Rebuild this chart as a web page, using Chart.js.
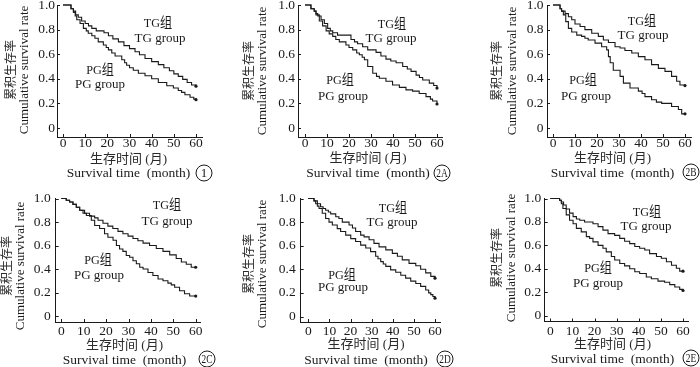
<!DOCTYPE html>
<html><head><meta charset="utf-8">
<script src="https://cdn.jsdelivr.net/npm/chart.js@4.4.0/dist/chart.umd.min.js"></script>
<style>
html,body{margin:0;padding:0;background:#fff;}
#wrap{position:relative;width:700px;height:367px;overflow:hidden;background:#fff;}
#wrap canvas{position:absolute;}
</style></head><body><div id="wrap"></div>
<script>
// ---------- data ----------
const xTicks = [0, 10, 20, 30, 40, 50, 60];
const yTicks = [0, 0.2, 0.4, 0.6, 0.8, 1.0];
const panelLabels = ['1', '2A', '2B', '2C', '2D', '2E'];
const groupTG = ['TG组', 'TG group'];
const groupPG = ['PG组', 'PG group'];
const yTitleZh = '累积生存率';
const yTitleEn = 'Cumulative survival rate';
const xTitleZh = '生存时间 (月)';
const xTitleEn = 'Survival time  (month)';

const tg1Months = [3.6,4.7,5.7,6.9,8.4,10,11.5,13,15,18.5,20.5,22.5,25,27.5,30,32.5,34.5,37,40,43,45.5,48,50,52,54,56,58,60];
const tg1Surv   = [.97,.95,.92,.90,.87,.85,.83,.81,.79,.775,.75,.725,.70,.67,.645,.62,.595,.565,.54,.515,.49,.465,.44,.42,.395,.37,.35,.34];
const pg1Months = [3.6,4.7,5.5,6.2,7.7,9.2,10.5,11.4,13,14.4,15.9,18.2,19.5,20.5,22,23.5,26.5,27.8,28.7,30,31.7,34,37,40,43,46.8,49.8,52,53.5,55,57.3,59,60];
const pg1Surv   = [.97,.94,.91,.88,.85,.81,.79,.77,.75,.73,.70,.675,.655,.635,.61,.585,.555,.53,.51,.49,.47,.445,.425,.40,.37,.343,.325,.305,.29,.27,.25,.235,.23];

const tg2aMonths = [2.7,4.2,5,5.8,7.3,8.8,10.3,11.5,12.6,14.8,20.9,22.5,23.9,26.2,28.5,32.3,34.5,36.8,39,41.4,44.4,46.5,48.2,50.5,52,53.5,56.5,58.5,60];
const tg2aSurv   = [.97,.95,.93,.91,.88,.85,.81,.79,.775,.755,.72,.70,.685,.66,.635,.615,.585,.56,.545,.53,.50,.48,.46,.43,.41,.39,.365,.345,.325];
const pg2aMonths = [2.7,4.2,5,6.5,8,9.6,11,12.6,14,15.6,18.6,20,21.7,23.5,24.7,26,27,28.5,30.8,32.5,33.8,36.8,39.8,42.9,45.9,48.9,51.9,55,57,58,60];
const pg2aSurv   = [.97,.95,.92,.87,.83,.79,.765,.745,.72,.70,.675,.655,.635,.61,.595,.575,.555,.50,.445,.42,.405,.38,.35,.33,.31,.30,.28,.255,.235,.22,.195];

const tg2bMonths = [3.2,3.9,5.5,7,8.5,10,12.3,14.5,17.6,20.6,22.9,25.2,28.2,30.5,32.7,35.8,38.8,41.8,44.8,47.9,50.9,53.9,56.2,57.7,60];
const tg2bSurv   = [.97,.95,.93,.905,.88,.845,.825,.80,.77,.745,.715,.695,.66,.65,.63,.61,.58,.555,.515,.485,.46,.42,.38,.35,.345];
const pg2bMonths = [3.2,3.9,4.7,5.8,7,8.5,10.8,13,14.5,16,19.1,22.1,24.4,25.2,26,27.4,30.5,32,35,38.8,40.5,41.8,44.8,47,49.4,53.9,57,58.5,60];
const pg2bSurv   = [.97,.95,.92,.865,.81,.78,.755,.745,.73,.715,.69,.66,.635,.58,.53,.47,.42,.365,.325,.30,.28,.255,.23,.21,.20,.175,.15,.115,.115];

const tg2cMonths = [2.2,3.7,5.2,6.7,8.2,10.4,12.6,14.9,16.4,18.6,20.8,23,25.3,27.5,29.8,32,34.2,36.5,39.4,42.4,45.4,48.4,51.3,53.6,55.8,58,60];
const tg2cSurv   = [.985,.97,.95,.925,.90,.875,.85,.835,.815,.79,.765,.745,.72,.70,.68,.66,.64,.62,.60,.575,.55,.52,.49,.46,.44,.415,.415];
const pg2cMonths = [2.2,3.7,5.2,6.7,8.2,9.7,11.2,13.4,14.9,17.1,19.3,20.8,23.1,24.6,26,27.5,29,30.5,32,33.5,35,36.5,38.7,40.9,43.2,45.4,47.6,49.1,50.6,52.8,55,57.3,60];
const pg2cSurv   = [.985,.97,.95,.925,.90,.875,.855,.815,.77,.745,.70,.67,.645,.60,.57,.55,.515,.50,.47,.445,.415,.40,.37,.345,.315,.30,.28,.265,.245,.215,.19,.17,.17];

const tg2dMonths = [2.7,4.3,5.8,7,8.2,9.5,10.6,13,14.5,16.1,19.3,20.9,22.4,24.8,26.4,28.8,31.1,33.5,36.7,39.8,42.2,44.5,47.7,50.9,53.2,55.6,58,60];
const tg2dSurv   = [.98,.955,.93,.915,.90,.885,.87,.845,.83,.80,.775,.75,.72,.69,.675,.65,.62,.59,.565,.535,.51,.48,.45,.43,.40,.37,.34,.325];
const pg2dMonths = [2.7,3.5,4.3,5.1,6.6,8.2,9.8,11.4,13.7,15.3,17.7,20.1,22.4,24.8,27.2,29.5,31.9,33,34.3,35.5,36.7,39,41.4,43.8,46.1,48.5,50.9,53.2,55.6,57,58,59,60];
const pg2dSurv   = [.98,.955,.935,.915,.875,.83,.80,.775,.745,.72,.69,.66,.635,.605,.58,.55,.51,.49,.465,.445,.425,.395,.375,.35,.325,.30,.28,.255,.225,.20,.185,.17,.155];

const tg2eMonths = [4.2,5,6,7.2,8.7,10.3,11.8,13.3,15.5,19.3,21.6,23.8,26.1,29.1,31.4,33.6,35.9,38.2,40.4,42.7,44.9,48,50.2,52.5,54.8,57,58.5,60];
const tg2eSurv   = [.985,.97,.945,.91,.875,.845,.825,.815,.80,.785,.76,.73,.70,.685,.66,.635,.615,.59,.575,.56,.53,.505,.49,.46,.43,.405,.38,.38];
const pg2eMonths = [4.2,5,5.7,7.2,8.7,10.3,11.8,14,16.3,17.8,19.3,21.6,23.8,25.3,27.6,29.1,31.4,33.6,35.9,38.2,40.4,43.4,45.7,48.7,51.7,54,56.3,58.5,60];
const pg2eSurv   = [.985,.955,.915,.86,.815,.785,.745,.715,.675,.66,.63,.60,.575,.545,.505,.475,.445,.425,.40,.375,.36,.33,.315,.295,.285,.265,.245,.225,.215];

const seriesByPanel = [
  [tg1Months, tg1Surv, pg1Months, pg1Surv],
  [tg2aMonths, tg2aSurv, pg2aMonths, pg2aSurv],
  [tg2bMonths, tg2bSurv, pg2bMonths, pg2bSurv],
  [tg2cMonths, tg2cSurv, pg2cMonths, pg2cSurv],
  [tg2dMonths, tg2dSurv, pg2dMonths, pg2dSurv],
  [tg2eMonths, tg2eSurv, pg2eMonths, pg2eSurv]
];

// ---------- layout (page pixel geometry) ----------
const geom = [
 {L:0,T:0,W:235,H:185, axisX:57, axisR:202, yTop:5, y0:128, axisY:137, x0:63, x60:196, yPad:2, xPad:0,
  yZhX:12, yEnX:25, yCY:70, xCX:128.5, xZhY:160, xEnY:173, circ:[204,173], tg:[158,23,160,39], pg:[100,70,100,85]},
 {L:235,T:0,W:230,H:185, axisX:298, axisR:442, yTop:5, y0:128, axisY:137, x0:305, x60:437, yPad:3, xPad:0,
  yZhX:250, yEnX:263, yCY:71, xCX:368, xZhY:159, xEnY:173, circ:[442,173], tg:[392,24,391,39], pg:[340,80,343,97]},
 {L:465,T:0,W:235,H:185, axisX:547, axisR:691, yTop:5, y0:128, axisY:137, x0:553, x60:685, yPad:3.5, xPad:0,
  yZhX:498, yEnX:513, yCY:71, xCX:612.5, xZhY:159, xEnY:173, circ:[691,172], tg:[642,21,643,36], pg:[583,80,586,97]},
 {L:0,T:185,W:235,H:182, axisX:55.7, axisR:200, yTop:198.5, y0:316, axisY:322, x0:61.3, x60:195.7, yPad:5, xPad:3,
  yZhX:8.3, yEnX:20.7, yCY:266, xCX:124.5, xZhY:346, xEnY:360, circ:[207,359], tg:[167,205,167,222], pg:[98,260,99,276]},
 {L:235,T:185,W:230,H:182, axisX:300.7, axisR:440, yTop:198.5, y0:316.5, axisY:322, x0:308.3, x60:435, yPad:5, xPad:3,
  yZhX:250, yEnX:263, yCY:264, xCX:366, xZhY:345, xEnY:360, circ:[445,359], tg:[393,208,392,223], pg:[342,275,343,288]},
 {L:465,T:185,W:235,H:182, axisX:544.7, axisR:688, yTop:198.5, y0:315.7, axisY:321.5, x0:550.3, x60:683, yPad:3.5, xPad:3,
  yZhX:498, yEnX:512, yCY:258, xCX:612.5, xZhY:345, xEnY:359, circ:[691,358], tg:[647,212,646,227], pg:[598,268,598,284]}
];

const F = "'Liberation Serif', 'Noto Sans CJK SC', serif";
const INK = '#1a1a1a';
const INK_ZH = '#2a2a2a';

function toPoints(months, surv) {
  return [{x: 0, y: 1}].concat(months.map((m, i) => ({x: m, y: surv[i]})));
}

function drawText(c, text, x, y, size, sx, rot, color) {
  c.save();
  c.translate(x, y);
  if (rot) c.rotate(rot);
  c.scale(sx, 1);
  c.font = size + 'px ' + F;
  c.fillStyle = color || INK;
  c.textAlign = 'center';
  c.textBaseline = 'middle';
  c.fillText(text, 0, 0);
  c.restore();
}

function makeTextPlugin(g, label) {
  return {
    id: 'txt',
    afterDraw(chart) {
      const c = chart.ctx, ca = chart.chartArea;
      const xs = chart.scales.x, ys = chart.scales.y;
      const ox = g.L, oy = g.T;
      c.save();
      c.fillStyle = INK; c.strokeStyle = INK; c.lineWidth = 1;
      // inward tick marks
      c.beginPath();
      xTicks.forEach(v => { const px = Math.round(xs.getPixelForValue(v)) + 0.5; c.moveTo(px, ca.bottom); c.lineTo(px, ca.bottom - 3); });
      yTicks.forEach(v => { const py = Math.round(ys.getPixelForValue(v)) + 0.5; c.moveTo(ca.left, py); c.lineTo(ca.left + 3, py); });
      c.stroke();
      // axis titles
      drawText(c, yTitleZh, g.yZhX - ox, g.yCY - oy, 12, 1, -Math.PI / 2, INK_ZH);
      drawText(c, yTitleEn, g.yEnX - ox, g.yCY - oy, 13, 1, -Math.PI / 2);
      drawText(c, xTitleZh, g.xCX - ox, g.xZhY - oy, 13, 1, 0, INK_ZH);
      drawText(c, xTitleEn, g.xCX - ox, g.xEnY - oy, 13.5, 1, 0);
      // circled panel label
      c.beginPath();
      c.arc(g.circ[0] - ox, g.circ[1] - oy, 8, 0, Math.PI * 2);
      c.lineWidth = 1; c.stroke();
      drawText(c, label, g.circ[0] - ox, g.circ[1] - oy + 0.5, label.length > 1 ? 12.5 : 13, label.length > 1 ? 0.75 : 1, 0);
      // group labels
      drawText(c, groupTG[0], g.tg[0] - ox, g.tg[1] - oy, 13.5, 0.9, 0);
      drawText(c, groupTG[1], g.tg[2] - ox, g.tg[3] - oy, 13, 1, 0);
      drawText(c, groupPG[0], g.pg[0] - ox, g.pg[1] - oy, 13.5, 0.9, 0);
      drawText(c, groupPG[1], g.pg[2] - ox, g.pg[3] - oy, 13, 1, 0);
      c.restore();
    }
  };
}

const wrap = document.getElementById('wrap');
geom.forEach((g, p) => {
  const cv = document.createElement('canvas');
  cv.width = g.W; cv.height = g.H;
  cv.style.left = g.L + 'px'; cv.style.top = g.T + 'px';
  cv.style.width = g.W + 'px'; cv.style.height = g.H + 'px';
  wrap.appendChild(cv);

  const s = seriesByPanel[p];
  const unitY = g.y0 - g.yTop;
  const yMin = -(g.axisY - g.y0) / unitY;
  const pxMonth = (g.x60 - g.x0) / 60;
  const xMin = -(g.x0 - g.axisX) / pxMonth;
  const xMax = 60 + (g.axisR - g.x60) / pxMonth;

  const ds = (months, surv) => {
    const pts = toPoints(months, surv);
    return {
      data: pts, stepped: true, borderColor: INK, borderWidth: 1.1, fill: false, tension: 0, clip: 4,
      pointRadius: ctx => ctx.dataIndex === pts.length - 1 ? 1.6 : 0,
      pointBackgroundColor: INK, pointBorderWidth: 0
    };
  };

  new Chart(cv, {
    type: 'line',
    data: { datasets: [ds(s[0], s[1]), ds(s[2], s[3])] },
    options: {
      responsive: false, animation: false, events: [], devicePixelRatio: 1,
      layout: { padding: { left: 0, top: g.yTop - g.T, right: g.L + g.W - g.axisR, bottom: 0 } },
      plugins: { legend: { display: false }, tooltip: { enabled: false }, title: { display: false } },
      scales: {
        x: {
          type: 'linear', min: xMin, max: xMax,
          afterBuildTicks: sc => { sc.ticks = xTicks.map(v => ({ value: v })); },
          afterFit: sc => { sc.height = g.T + g.H - g.axisY; sc.paddingLeft = 0; sc.paddingRight = 0; },
          grid: { display: true, drawOnChartArea: false, drawTicks: false },
          border: { display: true, color: INK, width: 1 },
          ticks: { padding: g.xPad, color: INK, autoSkip: false, maxRotation: 0, font: { family: F, size: 13.5, lineHeight: 1 },
                   callback: v => String(v) }
        },
        y: {
          type: 'linear', min: yMin, max: 1,
          afterBuildTicks: sc => { sc.ticks = yTicks.map(v => ({ value: v })); },
          afterFit: sc => { sc.width = g.axisX - g.L; sc.paddingTop = 0; sc.paddingBottom = 0; },
          grid: { display: true, drawOnChartArea: false, drawTicks: false },
          border: { display: true, color: INK, width: 1 },
          ticks: { padding: g.yPad, color: INK, autoSkip: false, font: { family: F, size: 13.5, lineHeight: 1 },
                   callback: v => (v === 0 ? '0' : Number(v).toFixed(1)) }
        }
      }
    },
    plugins: [makeTextPlugin(g, panelLabels[p])]
  });
});
</script>
</body></html>
